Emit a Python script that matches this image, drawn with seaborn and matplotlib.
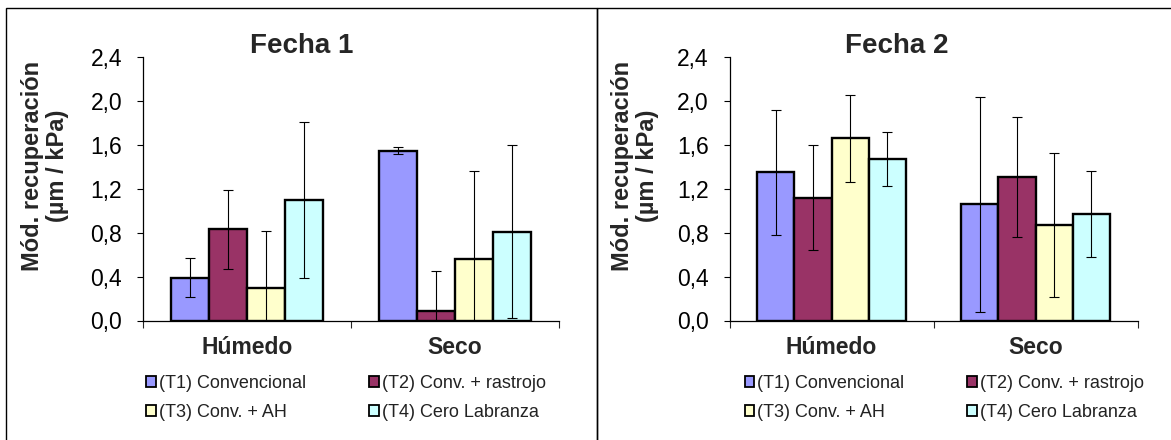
import matplotlib
matplotlib.use("Agg")
import matplotlib.pyplot as plt
from matplotlib.patches import Patch, Rectangle
from matplotlib.ticker import FuncFormatter, FixedLocator
import seaborn as sns
import pandas as pd

condiciones = ["Húmedo", "Seco"]
tratamientos = ["(T1) Convencional", "(T2) Conv. + rastrojo",
                "(T3) Conv. + AH", "(T4) Cero Labranza"]
colores = ["#9999FF", "#993366", "#FFFFCC", "#CCFFFF"]

# Fecha 1 (media y desvio por tratamiento)
f1_humedo = [0.39, 0.83, 0.30, 1.10]
f1_seco = [1.55, 0.09, 0.56, 0.81]
f1_err_humedo = [0.18, 0.36, 0.52, 0.71]
f1_err_seco = [0.03, 0.36, 0.80, 0.79]

# Fecha 2
f2_humedo = [1.35, 1.12, 1.66, 1.47]
f2_seco = [1.06, 1.31, 0.87, 0.97]
f2_err_humedo = [0.57, 0.48, 0.40, 0.245]
f2_err_seco = [0.98, 0.55, 0.66, 0.39]

y_ticks = [0.0, 0.4, 0.8, 1.2, 1.6, 2.0, 2.4]


def armar_df(humedo, seco, err_h, err_s):
    filas = []
    for i, t in enumerate(tratamientos):
        filas.append((condiciones[0], t, humedo[i], err_h[i]))
        filas.append((condiciones[1], t, seco[i], err_s[i]))
    return pd.DataFrame(filas, columns=["cond", "trat", "valor", "err"])


sns.set_style("white")
plt.rcParams["font.family"] = ["Liberation Sans", "DejaVu Sans"]

W, H = 1171, 440
fig = plt.figure(figsize=(W / 100, H / 100), dpi=100)

# marcos de cada grafico
fig.add_artist(Rectangle((6 / W, -0.1), (597 - 6) / W, (1 + 0.1) - 8 / H,
                         transform=fig.transFigure, fill=False,
                         edgecolor="black", linewidth=1.0))
fig.add_artist(Rectangle((597 / W, -0.1), 1.1 - 597 / W, (1 + 0.1) - 8 / H,
                         transform=fig.transFigure, fill=False,
                         edgecolor="black", linewidth=1.0))

paneles = [
    ("Fecha 1", armar_df(f1_humedo, f1_seco, f1_err_humedo, f1_err_seco),
     (143, 559), 302, 45, 3),
    ("Fecha 2", armar_df(f2_humedo, f2_seco, f2_err_humedo, f2_err_seco),
     (729.5, 1137.5), 897, 635, 15),
]

# orden de la leyenda: por filas (T1 T2 / T3 T4)
orden_ley = [0, 2, 1, 3]

for titulo, df, (x0, x1), x_tit, x_ylab, dx_ley in paneles:
    y_top, y_bot = 57.3, 320.5
    ax = fig.add_axes([x0 / W, (H - y_bot) / H, (x1 - x0) / W, (y_bot - y_top) / H])
    ancho = x1 - x0
    alto = y_bot - y_top

    sns.barplot(data=df, x="cond", y="valor", hue="trat", order=condiciones,
                hue_order=tratamientos, palette=colores, width=0.727,
                edgecolor="black", linewidth=1.7, errorbar=None, legend=False,
                saturation=1, ax=ax)

    # barras de error sobre cada barra
    barras = list(ax.containers)
    for i, cont in enumerate(barras):
        sub = df[df["trat"] == tratamientos[i]].set_index("cond").loc[condiciones]
        xs = [b.get_x() + b.get_width() / 2 for b in cont]
        ax.errorbar(xs, sub["valor"], yerr=sub["err"], fmt="none",
                    ecolor="black", elinewidth=0.8, capsize=3.6,
                    capthick=0.8, zorder=5)

    ax.set_xlim(-0.5, 1.5)
    ax.set_ylim(0, 2.4)
    ax.set_yticks(y_ticks)
    ax.yaxis.set_major_formatter(FuncFormatter(lambda v, p: f"{v:.1f}".replace(".", ",")))
    ax.tick_params(axis="y", direction="out", length=4, width=0.8,
                   labelsize=16.5, pad=11, left=True, colors="black")
    ax.xaxis.set_minor_locator(FixedLocator([-0.5, 0.5, 1.5]))
    ax.tick_params(axis="x", which="minor", direction="out", length=5,
                   width=0.8, bottom=True)
    ax.tick_params(axis="x", which="major", length=0, pad=11.5, labelsize=16.5)
    for lab in ax.get_xticklabels():
        lab.set_fontweight("bold")
    ax.set_xlabel("")
    ax.set_ylabel("")
    sns.despine(ax=ax)
    for s in ["left", "bottom"]:
        ax.spines[s].set_linewidth(0.9)
        ax.spines[s].set_color("black")

    ax.text((x_tit - x0) / ancho, 1 + 4 / alto, titulo, transform=ax.transAxes,
            ha="center", va="baseline", fontsize=20, fontweight="bold")
    ax.text((x_ylab - x0) / ancho, (y_bot - 166) / alto,
            "Mód. recuperación\n(µm / kPa)", transform=ax.transAxes,
            rotation=90, ha="center", va="center", multialignment="center",
            fontsize=17, fontweight="bold", linespacing=1.1)

    handles = [Patch(facecolor=colores[k], edgecolor="black", linewidth=1.3)
               for k in orden_ley]
    etiquetas = [tratamientos[k] for k in orden_ley]
    ax.legend(handles, etiquetas, ncol=2, frameon=False,
              loc="upper left", bbox_to_anchor=(dx_ley / ancho, -(375 - y_bot) / alto),
              borderaxespad=0, borderpad=0, handlelength=0.55, handleheight=0.55,
              handletextpad=0.15, columnspacing=3.5, labelspacing=0.66,
              prop={"size": 13}, labelcolor="#222222")

fig.savefig("out.png", dpi=100)
